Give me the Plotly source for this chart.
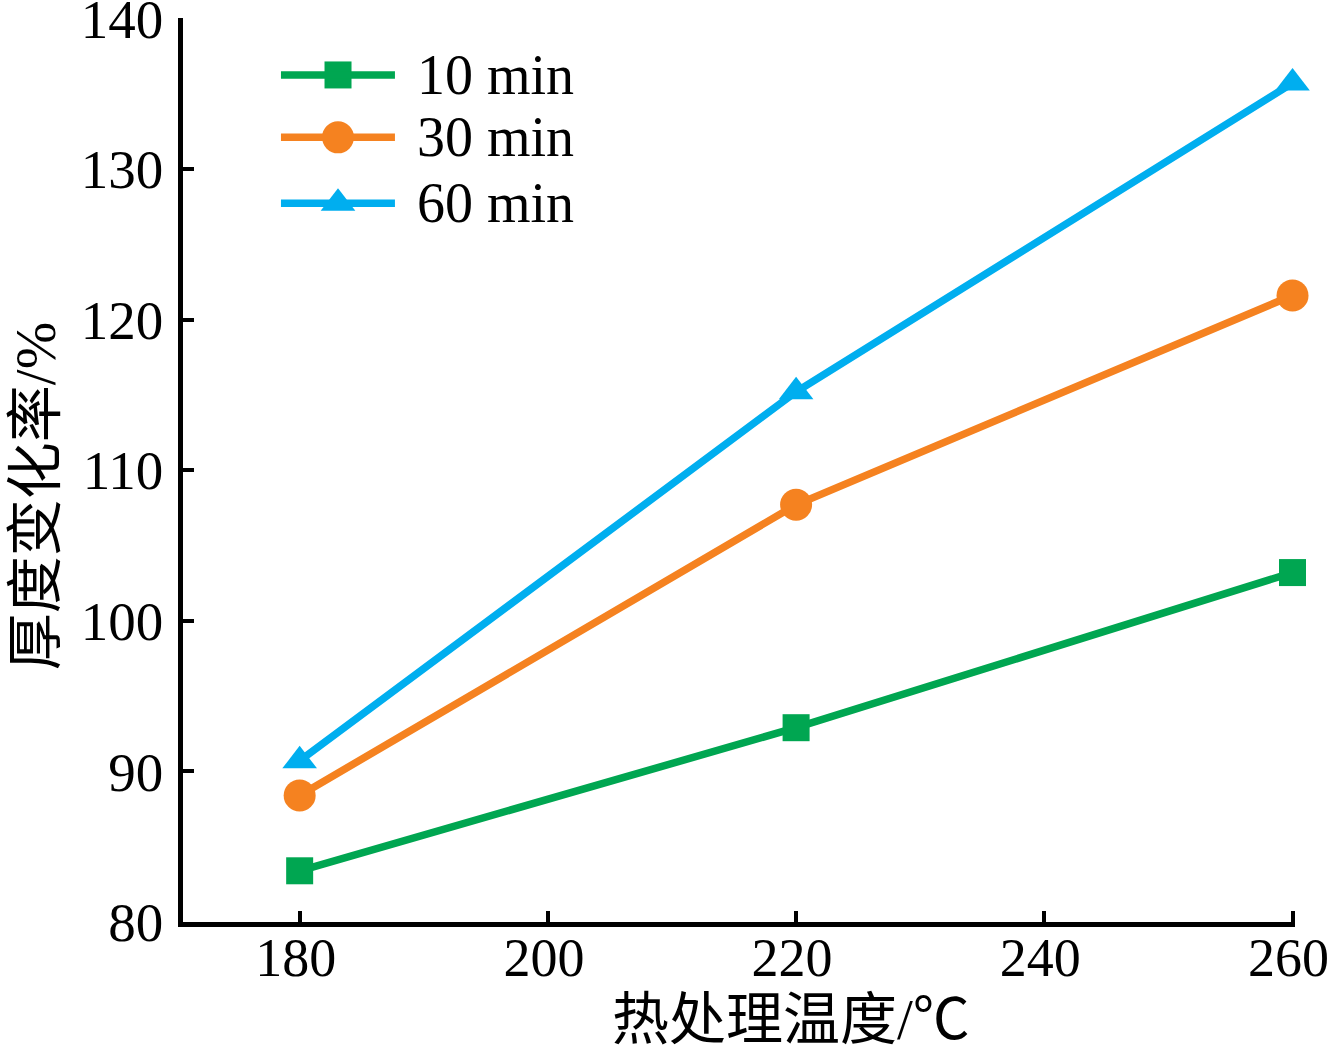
import plotly.graph_objects as go

# ---- data ----
temperature = [180, 220, 260]
series_names = ["10 min", "30 min", "60 min"]
rate_10min = [83.4, 92.9, 103.2]
rate_30min = [88.4, 107.7, 121.6]
rate_60min = [90.7, 115.2, 135.7]
x_ticks = [180, 200, 220, 240, 260]
y_ticks = [80, 90, 100, 110, 120, 130, 140]

colors = ["#00A651", "#F58220", "#00AEEF"]
symbols = ["square", "circle", "triangle-up"]
msizes = [27, 32, 30]
values = [rate_10min, rate_30min, rate_60min]

SERIF = "Liberation Serif, Times New Roman, Noto Sans CJK SC, serif"

fig = go.Figure()
for name, vals, c, s, ms in zip(series_names, values, colors, symbols, msizes):
    fig.add_trace(go.Scatter(
        x=temperature, y=vals, mode="lines+markers", name=name,
        line=dict(color=c, width=7.5),
        marker=dict(symbol=s, size=ms, color=c, line=dict(width=0)),
        showlegend=False, cliponaxis=False,
    ))

# ---- custom legend (long line samples like the reference) ----
leg_x0, leg_x1, leg_xm, leg_tx = 0.0881, 0.1906, 0.1394, 0.2085
leg_rows = [0.937, 0.868, 0.795]
for name, c, s, ms, ry in zip(series_names, colors, symbols, msizes, leg_rows):
    fig.add_shape(type="line", xref="paper", yref="paper",
                  x0=leg_x0, x1=leg_x1, y0=ry, y1=ry,
                  line=dict(color=c, width=7.5))
    fig.add_trace(go.Scatter(
        x=[leg_xm], y=[ry], xaxis="x2", yaxis="y2", mode="markers",
        marker=dict(symbol=s, size=ms, color=c, line=dict(width=0)),
        showlegend=False, hoverinfo="skip", cliponaxis=False,
    ))
    fig.add_annotation(x=leg_tx, y=ry, xref="paper", yref="paper",
                       text=name, showarrow=False, xanchor="left", yanchor="middle",
                       font=dict(family=SERIF, size=56, color="black"))

# axis titles
fig.add_annotation(x=0.5468, y=-0.1084, xref="paper", yref="paper",
                   text="热处理温度/℃", showarrow=False,
                   xanchor="center", yanchor="middle",
                   font=dict(family=SERIF, size=57, color="black"))
fig.add_annotation(x=-0.1331, y=0.471, xref="paper", yref="paper",
                   text="厚度变化率/%", showarrow=False, textangle=-90,
                   xanchor="center", yanchor="middle",
                   font=dict(family=SERIF, size=57, color="black"))

fig.update_layout(
    width=1330, height=1050,
    margin=dict(l=183, r=35, t=18, b=128, autoexpand=False),
    paper_bgcolor="white", plot_bgcolor="white",
    font=dict(family=SERIF, size=55, color="black"),
    xaxis=dict(range=[170.6, 260.2], tickvals=x_ticks, ticks="inside",
               ticklen=11, tickwidth=4, tickcolor="black",
               showline=True, linewidth=4.5, linecolor="black",
               showgrid=False, zeroline=False, ticklabelstandoff=-16,
               ticklabelshift=-4,
               ticklabeloverflow="allow", automargin=False,
               tickfont=dict(family=SERIF, size=54, color="black")),
    yaxis=dict(range=[80, 140.02], tickvals=y_ticks, ticks="inside",
               ticklen=11, tickwidth=4, tickcolor="black",
               showline=True, linewidth=4.5, linecolor="black",
               showgrid=False, zeroline=False, ticklabelstandoff=4,
               ticklabeloverflow="allow", automargin=False,
               tickfont=dict(family=SERIF, size=55, color="black")),
    xaxis2=dict(range=[0, 1], overlaying="x", visible=False, fixedrange=True),
    yaxis2=dict(range=[0, 1], overlaying="y", visible=False, fixedrange=True),
)

fig.write_html("out.html")
